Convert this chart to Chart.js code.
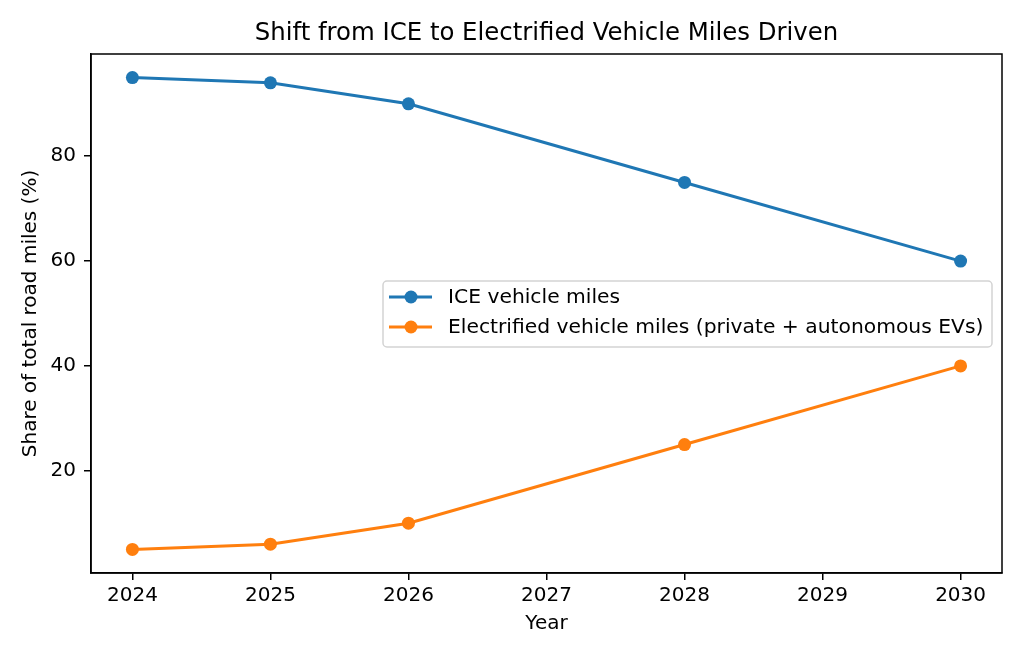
<!DOCTYPE html>
<html>
<head>
<meta charset="utf-8">
<script src="https://cdn.jsdelivr.net/npm/chart.js@4.4.1/dist/chart.umd.min.js"></script>
<style>
    html, body { margin: 0; padding: 0; background: #fff; }
    #wrap { width: 1024px; height: 658px; }
</style>
</head>
<body>
<div id="wrap"><canvas id="chart" width="1024" height="658"></canvas></div>
<script>
// Data
const years = [2024, 2025, 2026, 2028, 2030];
const iceMiles = [95, 94, 90, 75, 60];
const evMiles = [5, 6, 10, 25, 40];
const xTicks = [2024, 2025, 2026, 2027, 2028, 2029, 2030];
const yTicks = [20, 40, 60, 80];

const chartTitle = 'Shift from ICE to Electrified Vehicle Miles Driven';
const seriesLabels = [
    'ICE vehicle miles',
    'Electrified vehicle miles (private + autonomous EVs)',
];
const seriesColors = ['#1f77b4', '#ff7f0e'];
const FONT = "'DejaVu Sans', sans-serif";

function points(values) {
    return years.map((y, i) => ({x: y, y: values[i]}));
}

// Frame round the plot area, and the title centred over it
const pluginFrame = {
    id: 'frame',
    afterDraw: function(chart) {
        const a = chart.chartArea;
        const ctx = chart.ctx;
        ctx.save();
        ctx.strokeStyle = '#000';
        ctx.lineWidth = 1.5;
        ctx.strokeRect(a.left, a.top, a.right - a.left, a.bottom - a.top);
        ctx.fillStyle = '#000';
        ctx.font = '24.4px ' + FONT;
        ctx.textAlign = 'center';
        ctx.textBaseline = 'middle';
        ctx.fillText(chartTitle, (a.left + a.right) / 2, 34);
        ctx.restore();
    },
};

// Legend drawn inside the plot area (centre right)
const pluginInnerLegend = {
    id: 'innerLegend',
    afterDraw: function(chart) {
        const ctx = chart.ctx;
        const box = {x: 383, y: 281, w: 609, h: 66};
        ctx.save();
        ctx.fillStyle = 'rgba(255,255,255,0.8)';
        ctx.strokeStyle = '#d3d3d3';
        ctx.lineWidth = 1.5;
        ctx.beginPath();
        ctx.roundRect(box.x, box.y, box.w, box.h, 4);
        ctx.fill();
        ctx.stroke();
        ctx.font = '20.3px ' + FONT;
        ctx.textBaseline = 'middle';
        chart.data.datasets.forEach(function(ds, i) {
            const cy = 297 + i * 30;
            ctx.strokeStyle = ds.borderColor;
            ctx.lineWidth = 3;
            ctx.beginPath();
            ctx.moveTo(389, cy);
            ctx.lineTo(432, cy);
            ctx.stroke();
            ctx.fillStyle = ds.borderColor;
            ctx.beginPath();
            ctx.arc(411, cy, 6.5, 0, Math.PI * 2);
            ctx.fill();
            ctx.fillStyle = '#000';
            ctx.fillText(ds.label, 448, cy + 1);
        });
        ctx.restore();
    },
};

const datasets = [iceMiles, evMiles].map(function(values, i) {
    return {
        label: seriesLabels[i],
        data: points(values),
        borderColor: seriesColors[i],
        backgroundColor: seriesColors[i],
        borderWidth: 3,
        pointRadius: 6.5,
        pointHoverRadius: 6.5,
        pointBorderWidth: 0,
        tension: 0,
    };
});

new Chart(document.getElementById('chart'), {
    type: 'line',
    data: {datasets: datasets},
    options: {
        responsive: false,
        animation: false,
        devicePixelRatio: 1,
        layout: {padding: {left: 0, right: 22, top: 54, bottom: 0}},
        plugins: {
            legend: {display: false},
            tooltip: {enabled: false},
            title: {display: false},
        },
        scales: {
            x: {
                type: 'linear',
                min: 2023.7,
                max: 2030.3,
                afterBuildTicks: function(scale) {
                    scale.ticks = xTicks.map(v => ({value: v}));
                },
                afterFit: function(scale) {
                    scale.height = 85;
                },
                grid: {
                    display: true,
                    drawOnChartArea: false,
                    drawTicks: true,
                    tickLength: 7,
                    lineWidth: 1.5,
                    color: '#000',
                },
                border: {display: true, color: '#000', width: 1.5},
                ticks: {
                    color: '#000',
                    padding: 4,
                    font: {family: FONT, size: 20},
                    callback: v => String(v),
                },
                title: {
                    display: true,
                    text: 'Year',
                    color: '#000',
                    font: {family: FONT, size: 20},
                    padding: {top: 0, bottom: 22},
                },
            },
            y: {
                type: 'linear',
                min: 0.5,
                max: 99.5,
                afterBuildTicks: function(scale) {
                    scale.ticks = yTicks.map(v => ({value: v}));
                },
                afterFit: function(scale) {
                    scale.width = 91;
                },
                grid: {
                    display: true,
                    drawOnChartArea: false,
                    drawTicks: true,
                    tickLength: 7,
                    lineWidth: 1.5,
                    color: '#000',
                },
                border: {display: true, color: '#000', width: 1.5},
                ticks: {
                    color: '#000',
                    padding: 8,
                    font: {family: FONT, size: 20},
                },
                title: {
                    display: true,
                    text: 'Share of total road miles (%)',
                    color: '#000',
                    font: {family: FONT, size: 20},
                    padding: {top: 19, bottom: 0},
                },
            },
        },
    },
    plugins: [pluginFrame, pluginInnerLegend],
});
</script>
</body>
</html>
